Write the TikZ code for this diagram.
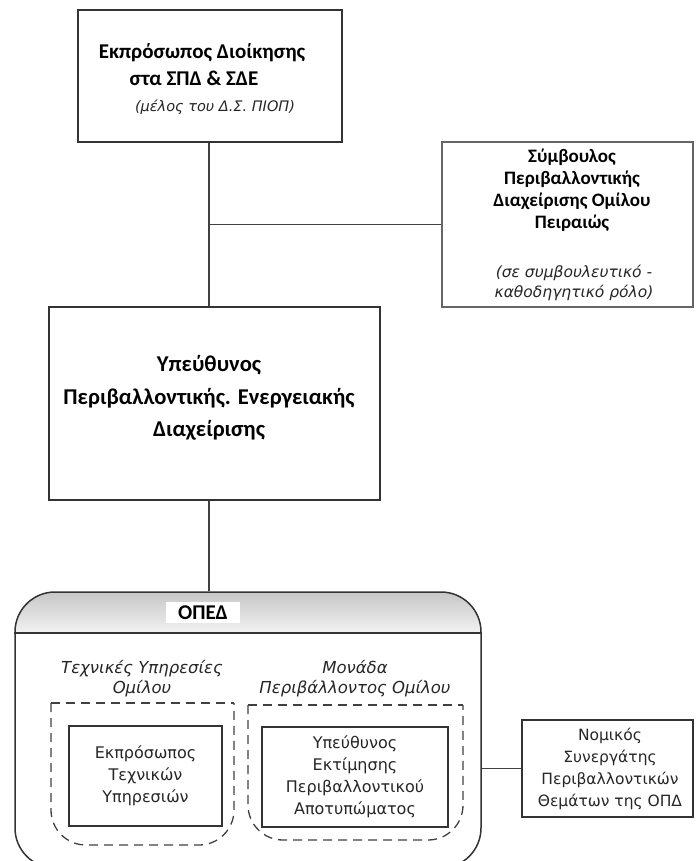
\documentclass[tikz,border=0pt]{standalone}
\usepackage{fontspec}
\setmainfont{Carlito}
\newfontfamily\gothic{DejaVu Sans}
\usetikzlibrary{positioning}

\begin{document}
\begin{tikzpicture}[x=1pt, y=-1pt,
		box/.style={draw=black!80, line width=1.5pt, inner sep=0pt},
		link/.style={draw=black!75, line width=1.8pt},
		grp/.style={draw=black!75, line width=1.3pt, dash pattern=on 9pt off 6pt},
		boldtxt/.style={font=\fontsize{#1}{22}\selectfont\bfseries, align=center, inner sep=0pt},
		boldtxt/.default=19,
		gothtxt/.style={font=\gothic\fontsize{16}{22}\selectfont, text=black!85, align=center, inner sep=0pt},
		gothit/.style={font=\gothic\itshape\fontsize{#1}{20}\selectfont, text=black!85, align=center, inner sep=0pt},
		gothit/.default=15.5
	]
	\useasboundingbox (0,0) rectangle (696,861);
	
	% boxes
	\node[box, minimum width=264pt, minimum height=132pt] (rep) at (210,76) {};
	\node[box, draw=black!60, line width=2pt, minimum width=251pt, minimum height=165pt] (advisor) at (567.5,224.5) {};
	\node[box, minimum width=331pt, minimum height=193pt] (resp) at (214.5,403.5) {};
	
	% texts
	\node[boldtxt=21] (rep1) at (202,53) {Εκπρόσωπος Διοίκησης};
	\node[boldtxt=21] (rep2) at (194,78) {στα ΣΠΔ \& ΣΔΕ};
	\node[gothit=14.5] (rep3) at (215,107) {(μέλος του Δ.Σ. ΠΙΟΠ)};
	
	\node[boldtxt] (adv1) at (572,190) {Σύμβουλος\\Περιβαλλοντικής\\Διαχείρισης Ομίλου\\Πειραιώς};
	\node[gothit] (adv2) at (574,283) {(σε συμβουλευτικό -\\καθοδηγητικό ρόλο)};
	
	\node[font=\fontsize{22.6}{32.5}\selectfont\bfseries, align=center] (resp1) at (209,398)
	{Υπεύθυνος\\Περιβαλλοντικής. Ενεργειακής\\Διαχείρισης};
	
	% ΟΠΕΔ
	\begin{scope}
		\clip[rounded corners=40pt] (15,592) rectangle (481,868);
		\shade[top color=black!22, bottom color=black!5] (15,592) rectangle (481,633);
	\end{scope}
	\node[box, rounded corners=40pt, minimum width=466pt, minimum height=276pt] (oped) at (248,730) {};
	\draw[box] (oped.west |- 0,633) -- (oped.east |- 0,633);
	\node[fill=white, font=\fontsize{21}{24}\selectfont\bfseries, minimum width=74pt, minimum height=21pt, inner sep=0pt] (opedlbl) at (203,612.5) {ΟΠΕΔ};
	
	% groups
	\node[gothit=16.5] (grpL) at (142,679) {Τεχνικές Υπηρεσίες\\Ομίλου};
	\node[gothit=16.5] (grpR) at (355,679) {Μονάδα\\Περιβάλλοντος Ομίλου};
	\draw[grp] (51,703) -- (234,703);
	\draw[grp, rounded corners=35pt] (51,703) -- (51,845) -- (234,845) -- (234,703);
	\draw[grp] (248,705) -- (463,705);
	\draw[grp, rounded corners=35pt] (248,705) -- (248,840) -- (463,840) -- (463,705);
	
	\node[box, minimum width=153pt, minimum height=100pt] (tech) at (145.5,776) {};
	\node[gothtxt] (tech1) at (tech.center) {Εκπρόσωπος\\Τεχνικών\\Υπηρεσιών};
	\node[box, minimum width=186pt, minimum height=100pt] (envir) at (355,777) {};
	\node[gothtxt] (envir1) at (envir.center) {Υπεύθυνος\\Εκτίμησης\\Περιβαλλοντικού\\Αποτυπώματος};
	
	\node[box, minimum width=171pt, minimum height=97pt] (legal) at (607.5,768.5) {};
	\node[gothtxt, font=\gothic\fontsize{15.5}{22}\selectfont] (legal1) at (610,768.5) {Νομικός\\Συνεργάτης\\Περιβαλλοντικών\\Θεμάτων της ΟΠΔ};
	
	% connectors
	\coordinate (spine) at (209,0);
	\draw[link] (rep.south -| spine) -- (resp.north -| spine);
	\draw[link] (spine |- advisor.west) -- (advisor.west);
	\draw[link] (resp.south -| spine) -- (oped.north -| spine);
	\draw[link] (legal.west -| oped.east) -- (legal.west);
\end{tikzpicture}
\end{document}
